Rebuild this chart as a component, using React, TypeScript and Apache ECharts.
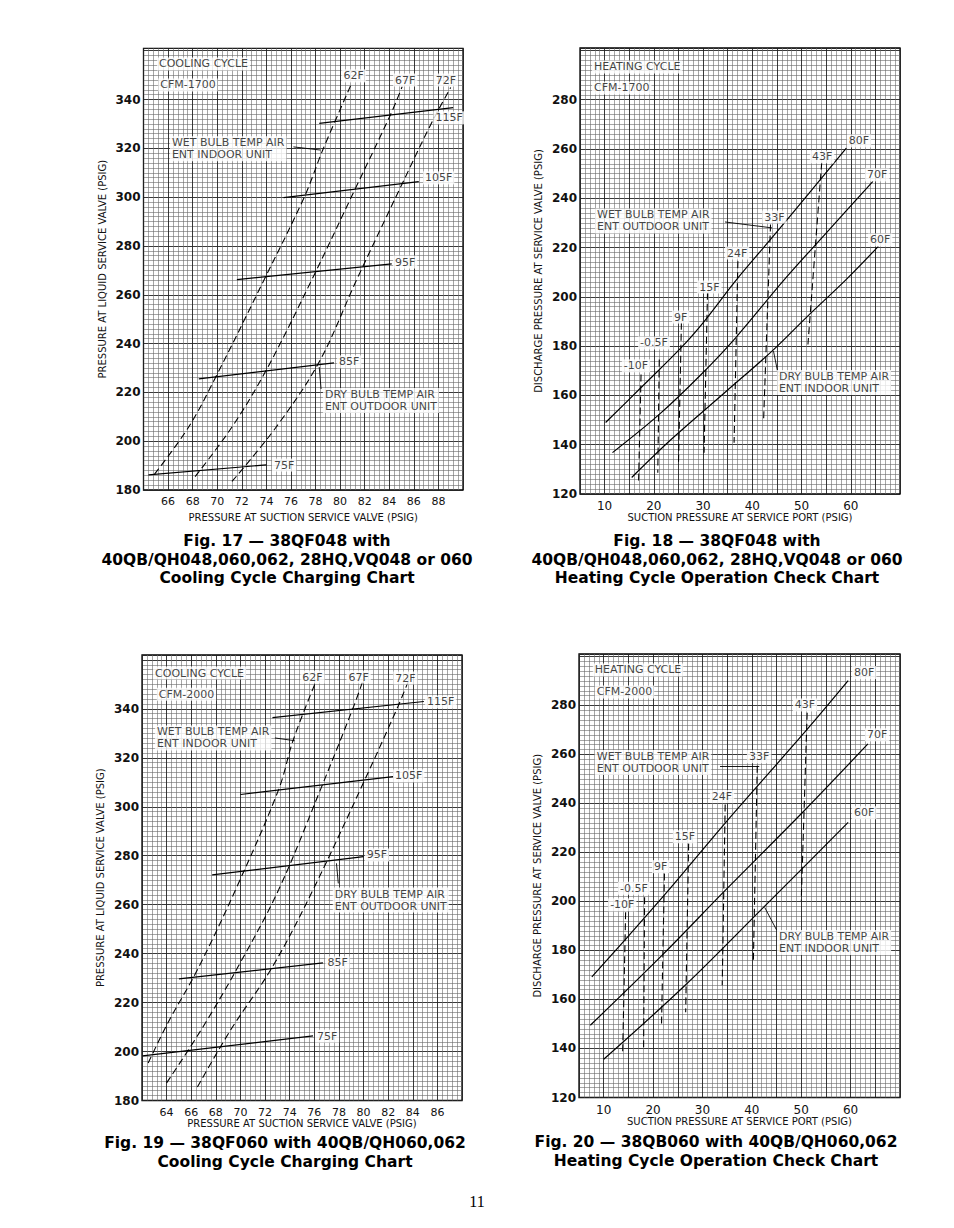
import React, { useEffect, useRef } from "react";
import * as echarts from "echarts";

type Pt = [number, number];
type Curve = [string, Pt[]];
type Note = [string, number, number, string];
type Arrow = [number, number, number, number];

// ---------- Fig. 17 (cooling, CFM-1700) ----------
const fig17Dry: Curve[] = [
  ["115F", [[78.3, 330.2], [89.2, 336.7]]],
  ["105F", [[75.4, 299.8], [86.4, 306.4]]],
  ["95F", [[71.6, 266.2], [84.2, 272.7]]],
  ["85F", [[68.5, 225.5], [79.5, 232.1]]],
  ["75F", [[64.4, 186.2], [74.0, 190.3]]],
];
const fig17Wet: Curve[] = [
  ["62F", [[64.9, 186.5], [67.7, 206], [69.9, 226.5], [73.8, 266], [77.1, 300.2], [78.6, 319.5], [80.9, 346.2]]],
  ["67F", [[68.2, 185.5], [71.2, 205.8], [74.0, 229.2], [77.7, 266.2], [81.2, 303.1], [84.1, 333.8], [85.05, 345.3]]],
  ["72F", [[71.2, 183.5], [74.8, 205.8], [78.3, 232.5], [81.35, 266.2], [85.1, 306], [87.5, 331], [89.0, 344.9]]],
];
const fig17Notes: Note[] = [
  ["COOLING CYCLE", 65.1, 354.6, "left"],
  ["CFM-1700", 65.2, 346, "left"],
  ["62F", 81.1, 349.7, "center"],
  ["67F", 85.3, 348, "center"],
  ["72F", 88.6, 348, "center"],
  ["115F", 87.6, 332.5, "left"],
  ["105F", 86.75, 307.9, "left"],
  ["95F", 84.3, 273.4, "left"],
  ["85F", 79.75, 232.5, "left"],
  ["75F", 74.45, 190.2, "left"],
  ["WET BULB TEMP AIR\nENT INDOOR UNIT", 66.15, 319.8, "left"],
  ["DRY BULB TEMP AIR\nENT OUTDOOR UNIT", 78.6, 216.7, "left"],
];
const fig17Arrows: Arrow[] = [
  [76.2, 320.6, 78.4, 319.3],
  [78.45, 221.4, 78.3, 230.4],
];

// ---------- Fig. 18 (heating, CFM-1700) ----------
const fig18Dry: Curve[] = [
  ["80F", [[10.2, 149], [17.3, 163], [25.6, 179.5], [30.2, 190], [36.8, 207], [44, 224], [51.5, 242], [59.1, 260.4]]],
  ["70F", [[11.6, 136.8], [21.1, 152.3], [29.6, 168.5], [36.7, 183.6], [46.5, 207], [55.5, 227], [64.5, 246.9]]],
  ["60F", [[15.5, 126.7], [23.5, 142.1], [34.6, 161.5], [44, 178], [51, 191.7], [59.1, 207.1], [65.6, 220.5]]],
];
const fig18Wet: Curve[] = [
  ["-10F", [[17.4, 168.5], [16.9, 125.2]]],
  ["-0.5F", [[21.1, 174.6], [20.8, 128.6]]],
  ["9F", [[25.6, 189.5], [25.0, 132]]],
  ["15F", [[30.9, 201.7], [30.2, 136.7]]],
  ["24F", [[37.07, 214.5], [36.3, 140.8]]],
  ["33F", [[43.7, 229.4], [42.3, 150.3]]],
  ["43F", [[54.1, 254.5], [51.3, 180.7]]],
];
const fig18Notes: Note[] = [
  ["HEATING CYCLE", 7.44, 293.3, "left"],
  ["CFM-1700", 7.44, 284.8, "left"],
  ["80F", 59.2, 263.3, "left"],
  ["43F", 51.7, 256.8, "left"],
  ["70F", 62.9, 249.5, "left"],
  ["60F", 63.5, 223.1, "left"],
  ["WET BULB TEMP AIR\nENT OUTDOOR UNIT", 8.05, 230.8, "left"],
  ["33F", 42.0, 232.4, "left"],
  ["24F", 34.45, 217.8, "left"],
  ["15F", 28.8, 204, "left"],
  ["9F", 23.7, 191.8, "left"],
  ["-0.5F", 16.8, 181.3, "left"],
  ["-10F", 13.5, 172, "left"],
  ["DRY BULB TEMP AIR\nENT INDOOR UNIT", 45.0, 165.3, "left"],
];
const fig18Arrows: Arrow[] = [
  [34.45, 230.4, 44.0, 228],
  [45.2, 169.1, 44.3, 178],
];

// ---------- Fig. 19 (cooling, CFM-2000) ----------
const fig19Dry: Curve[] = [
  ["115F", [[72.6, 336.4], [84.9, 343]]],
  ["105F", [[70, 305], [82.4, 312.3]]],
  ["95F", [[67.7, 272.2], [80, 279.6]]],
  ["85F", [[65, 229.7], [76.7, 236.2]]],
  ["75F", [[62.05, 198.2], [75.9, 206.4]]],
];
const fig19Wet: Curve[] = [
  ["62F", [[62.5, 195.3], [64.1, 211.7], [66.5, 233.4], [69.6, 266.1], [73.1, 307], [74.3, 327.5], [76.1, 350.8]]],
  ["67F", [[64, 187.2], [66.8, 208.8], [69.8, 234.6], [73.1, 266.1], [76.5, 307], [79.2, 341], [79.9, 350.8]]],
  ["72F", [[66.5, 185.5], [69.2, 208.8], [72.6, 234.6], [75.9, 266.1], [80, 309.9], [82.8, 341], [83.6, 350.8]]],
];
const fig19Notes: Note[] = [
  ["COOLING CYCLE", 62.9, 354.6, "left"],
  ["CFM-2000", 63.2, 346, "left"],
  ["62F", 75.85, 353, "center"],
  ["67F", 79.6, 353, "center"],
  ["72F", 83.4, 352.6, "center"],
  ["115F", 85.0, 342.8, "left"],
  ["105F", 82.4, 312.6, "left"],
  ["95F", 80.1, 280.3, "left"],
  ["85F", 76.9, 236.2, "left"],
  ["75F", 76.05, 206.3, "left"],
  ["WET BULB TEMP AIR\nENT INDOOR UNIT", 63.05, 328.1, "left"],
  ["DRY BULB TEMP AIR\nENT OUTDOOR UNIT", 77.5, 261.9, "left"],
];
const fig19Arrows: Arrow[] = [
  [72.8, 328.1, 74.4, 327],
  [77.95, 268.7, 77.8, 276.9],
];

// ---------- Fig. 20 (heating, CFM-2000) ----------
const fig20Dry: Curve[] = [
  ["80F", [[7.6, 169.2], [15.05, 186], [23.1, 204.5], [34.6, 232], [51.1, 270], [59.5, 290.1]]],
  ["70F", [[7.3, 149.5], [21.8, 178], [34.6, 204.5], [50.1, 236], [63.5, 264.3]]],
  ["60F", [[10, 135.6], [26.6, 166], [42.3, 197.5], [50, 213], [59.5, 232.3]]],
];
const fig20Wet: Curve[] = [
  ["-10F", [[14.44, 195.6], [13.84, 138.1]]],
  ["-0.5F", [[18.28, 201.7], [18.08, 140.2]]],
  ["9F", [[22.3, 211.4], [21.7, 148.7]]],
  ["15F", [[27.2, 223.7], [26.6, 154.8]]],
  ["24F", [[34.6, 239.6], [34.0, 165.8]]],
  ["33F", [[41.1, 255.4], [40.3, 174.8]]],
  ["43F", [[51.2, 277], [50.0, 200.4]]],
];
const fig20Notes: Note[] = [
  ["HEATING CYCLE", 7.8, 294.5, "left"],
  ["CFM-2000", 8.2, 285.5, "left"],
  ["80F", 60.3, 293.4, "left"],
  ["43F", 48.3, 280.2, "left"],
  ["70F", 62.9, 268, "left"],
  ["60F", 60.3, 236.2, "left"],
  ["WET BULB TEMP AIR\nENT OUTDOOR UNIT", 8.2, 256.7, "left"],
  ["33F", 39.0, 259.1, "left"],
  ["24F", 31.5, 242.8, "left"],
  ["15F", 24.0, 226.4, "left"],
  ["9F", 19.8, 214.2, "left"],
  ["-0.5F", 12.9, 205.4, "left"],
  ["-10F", 10.9, 198.6, "left"],
  ["DRY BULB TEMP AIR\nENT INDOOR UNIT", 45.1, 183.3, "left"],
];
const fig20Arrows: Arrow[] = [
  [33.55, 255, 41.5, 255],
  [45.0, 188.4, 42.6, 197.6],
];

// ---------- axes & captions ----------
const coolXName = "PRESSURE AT SUCTION SERVICE VALVE (PSIG)";
const coolYName = "PRESSURE AT LIQUID SERVICE VALVE (PSIG)";
const heatXName = "SUCTION PRESSURE AT SERVICE PORT (PSIG)";
const heatYName = "DISCHARGE PRESSURE AT SERVICE VALVE (PSIG)";

const fig17Caption = ["Fig. 17 — 38QF048 with", "40QB/QH048,060,062, 28HQ,VQ048 or 060", "Cooling Cycle Charging Chart"];
const fig18Caption = ["Fig. 18 — 38QF048 with", "40QB/QH048,060,062, 28HQ,VQ048 or 060", "Heating Cycle Operation Check Chart"];
const fig19Caption = ["Fig. 19 — 38QF060 with 40QB/QH060,062", "Cooling Cycle Charging Chart"];
const fig20Caption = ["Fig. 20 — 38QB060 with 40QB/QH060,062", "Heating Cycle Operation Check Chart"];
const pageNumber = "11";

const SANS = "'DejaVu Sans', 'Liberation Sans', sans-serif";

interface Panel {
  grid: { left: number; top: number; width: number; height: number };
  x: { min: number; max: number; interval: number; minor: number; lo: number; hi: number; step: number; size: number; name: string; gap: number };
  y: { min: number; max: number; interval: number; minor: number; lo: number; hi: number; name: string; gap: number };
  dry: Curve[];
  wet: Curve[];
  notes: Note[];
  arrows: Arrow[];
  caption: string[];
  capX: number;
  capY: number;
}

const panels: Panel[] = [
  {
    grid: { left: 143.5, top: 48.3, width: 319.5, height: 441.7 },
    x: { min: 64, max: 90, interval: 2, minor: 5, lo: 66, hi: 88, step: 2, size: 11, name: coolXName, gap: 22 },
    y: { min: 180, max: 361, interval: 20, minor: 10, lo: 180, hi: 340, name: coolYName, gap: 36 },
    dry: fig17Dry, wet: fig17Wet, notes: fig17Notes, arrows: fig17Arrows,
    caption: fig17Caption, capX: 287, capY: 541,
  },
  {
    grid: { left: 580, top: 48, width: 320, height: 446 },
    x: { min: 5, max: 70, interval: 5, minor: 5, lo: 10, hi: 60, step: 10, size: 12, name: heatXName, gap: 18 },
    y: { min: 120, max: 301, interval: 20, minor: 10, lo: 120, hi: 280, name: heatYName, gap: 37 },
    dry: fig18Dry, wet: fig18Wet, notes: fig18Notes, arrows: fig18Arrows,
    caption: fig18Caption, capX: 717, capY: 541,
  },
  {
    grid: { left: 142, top: 655, width: 320, height: 445.5 },
    x: { min: 62, max: 88, interval: 2, minor: 5, lo: 64, hi: 86, step: 2, size: 11, name: coolXName, gap: 17 },
    y: { min: 180, max: 362, interval: 20, minor: 10, lo: 180, hi: 340, name: coolYName, gap: 37 },
    dry: fig19Dry, wet: fig19Wet, notes: fig19Notes, arrows: fig19Arrows,
    caption: fig19Caption, capX: 285, capY: 1143,
  },
  {
    grid: { left: 579, top: 654, width: 321, height: 443.5 },
    x: { min: 5, max: 70, interval: 5, minor: 5, lo: 10, hi: 60, step: 10, size: 12, name: heatXName, gap: 17 },
    y: { min: 120, max: 301, interval: 20, minor: 10, lo: 120, hi: 280, name: heatYName, gap: 37 },
    dry: fig20Dry, wet: fig20Wet, notes: fig20Notes, arrows: fig20Arrows,
    caption: fig20Caption, capX: 716, capY: 1142,
  },
];

function buildOption() {
  const grid: any[] = [];
  const xAxis: any[] = [];
  const yAxis: any[] = [];
  const series: any[] = [];
  const graphic: any[] = [];

  panels.forEach((p, i) => {
    grid.push({ ...p.grid, show: true, borderColor: "#000", borderWidth: 1.3, backgroundColor: "#fff" });
    const ax = p.x;
    xAxis.push({
      gridIndex: i, type: "value", min: ax.min, max: ax.max, interval: ax.interval,
      axisLine: { show: false }, axisTick: { show: false },
      axisLabel: {
        fontSize: ax.size, color: "#111", margin: 6, fontFamily: SANS,
        formatter: (v: number) => (v >= ax.lo && v <= ax.hi && Math.abs(v % ax.step) < 1e-6 ? String(v) : ""),
      },
      splitLine: { show: true, lineStyle: { color: "#222", width: 0.9 } },
      minorTick: { show: false, splitNumber: ax.minor },
      minorSplitLine: { show: true, lineStyle: { color: "#6a6a6a", width: 0.6 } },
      name: ax.name, nameLocation: "middle", nameGap: ax.gap,
      nameTextStyle: { fontSize: 10, color: "#111", fontFamily: SANS },
    });
    const ay = p.y;
    yAxis.push({
      gridIndex: i, type: "value", min: ay.min, max: ay.max, interval: ay.interval,
      axisLine: { show: false }, axisTick: { show: false },
      axisLabel: {
        fontSize: 12, fontWeight: "bold", color: "#111", margin: 3, fontFamily: SANS,
        formatter: (v: number) => (v >= ay.lo && v <= ay.hi ? String(v) : ""),
      },
      splitLine: { show: true, lineStyle: { color: "#222", width: 0.9 } },
      minorTick: { show: false, splitNumber: ay.minor },
      minorSplitLine: { show: true, lineStyle: { color: "#6a6a6a", width: 0.6 } },
      name: ay.name, nameLocation: "middle", nameGap: ay.gap, nameRotate: 90,
      nameTextStyle: { fontSize: 10, color: "#111", fontFamily: SANS },
    });

    p.dry.forEach(([name, pts]) => {
      series.push({
        type: "line", name, xAxisIndex: i, yAxisIndex: i, data: pts,
        showSymbol: false, symbol: "none", silent: true, z: 5,
        smooth: pts.length > 2 ? 0.35 : false,
        lineStyle: { color: "#000", width: 1.2 },
      });
    });
    p.wet.forEach(([name, pts]) => {
      series.push({
        type: "line", name, xAxisIndex: i, yAxisIndex: i, data: pts,
        showSymbol: false, symbol: "none", silent: true, z: 5,
        smooth: pts.length > 2 ? 0.35 : false,
        lineStyle: { color: "#000", width: 1.1, type: [7, 4] },
      });
    });

    series.push({
      type: "scatter", xAxisIndex: i, yAxisIndex: i, silent: true, z: 10,
      symbolSize: 0.01,
      itemStyle: { color: "rgba(0,0,0,0)" },
      data: p.notes.map(([text, x, y, align]) => ({
        value: [x, y],
        label: {
          show: true, formatter: text, position: "inside", align, verticalAlign: "middle",
          fontSize: 11, color: "#111", fontFamily: SANS, lineHeight: 12,
          backgroundColor: "#fff", padding: [1, 2, 0, 2],
        },
      })),
      markLine: {
        silent: true, symbol: ["none", "arrow"], symbolSize: [0, 7],
        lineStyle: { color: "#000", width: 0.9, type: "solid" },
        label: { show: false },
        data: p.arrows.map(([x1, y1, x2, y2]) => [{ coord: [x1, y1] }, { coord: [x2, y2] }]),
      },
    });

    p.caption.forEach((line, k) => {
      graphic.push({
        type: "text", x: p.capX, y: p.capY + k * 18.5, silent: true,
        style: {
          text: line, fill: "#000", fontSize: 15.5, fontWeight: "bold", fontFamily: SANS,
          align: "center", verticalAlign: "middle", textAlign: "center", textVerticalAlign: "middle",
        },
      });
    });
  });

  graphic.push({
    type: "text", x: 477, y: 1201, silent: true,
    style: {
      text: pageNumber, fill: "#000", fontSize: 16, fontFamily: "'Liberation Serif', serif",
      align: "center", verticalAlign: "middle", textAlign: "center", textVerticalAlign: "middle",
    },
  });

  return { animation: false, backgroundColor: "#fff", grid, xAxis, yAxis, series, graphic };
}

export default function App() {
  const ref = useRef<HTMLDivElement>(null);
  useEffect(() => {
    if (!ref.current) return;
    const chart = echarts.init(ref.current, undefined, { renderer: "svg" });
    chart.setOption(buildOption() as any);
    return () => chart.dispose();
  }, []);
  return (
    <div
      ref={ref}
      style={{ position: "absolute", left: 0, top: 0, width: 954, height: 1228, background: "#fff" }}
    />
  );
}
